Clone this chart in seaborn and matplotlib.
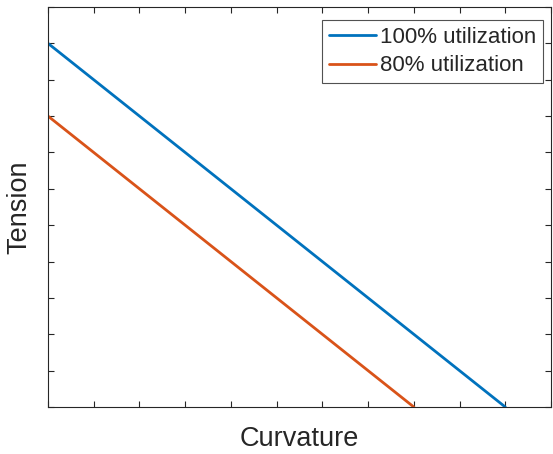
import pandas as pd
import matplotlib
matplotlib.use("Agg")
import matplotlib.pyplot as plt
import seaborn as sns

# endpoints of each utilization line (curvature, tension)
curv_100 = [0, 10]
tens_100 = [10, 0]
curv_80 = [0, 8]
tens_80 = [8, 0]
labels = ["100% utilization", "80% utilization"]
colors = ["#0072BD", "#D95319"]

df = pd.concat([
    pd.DataFrame({"Curvature": curv_100, "Tension": tens_100, "case": labels[0]}),
    pd.DataFrame({"Curvature": curv_80, "Tension": tens_80, "case": labels[1]}),
])

sns.set_style("ticks")
plt.rcParams["font.family"] = ["Liberation Sans", "DejaVu Sans"]

fig = plt.figure(figsize=(5.53, 4.54), dpi=100)
ax = fig.add_axes([48 / 553, 47 / 454, 503 / 553, 400 / 454])

sns.lineplot(data=df, x="Curvature", y="Tension", hue="case",
             palette=dict(zip(labels, colors)), linewidth=2, ax=ax)

ax.set_xlim(0, 11)
ax.set_ylim(0, 11)
ax.set_xticks(range(0, 12))
ax.set_yticks(range(0, 12))
ax.set_xticklabels([])
ax.set_yticklabels([])
ax.tick_params(direction="in", length=4, width=0.8, color="#262626",
               top=True, right=True)
for s in ax.spines.values():
    s.set_visible(True)
    s.set_color("#262626")
    s.set_linewidth(0.8)

ax.set_xlabel("Curvature", fontsize=19.5, color="#262626", labelpad=10)
ax.set_ylabel("Tension", fontsize=19.5, color="#262626", labelpad=8)

leg = ax.legend(loc="upper right", bbox_to_anchor=(0.984, 0.9675), fontsize=16,
                frameon=True, fancybox=False, edgecolor="#262626",
                handlelength=2.1, handletextpad=0.2, borderpad=0.3,
                labelspacing=0.35, borderaxespad=0)
leg.get_frame().set_linewidth(0.8)

fig.savefig("out.png", dpi=100)
